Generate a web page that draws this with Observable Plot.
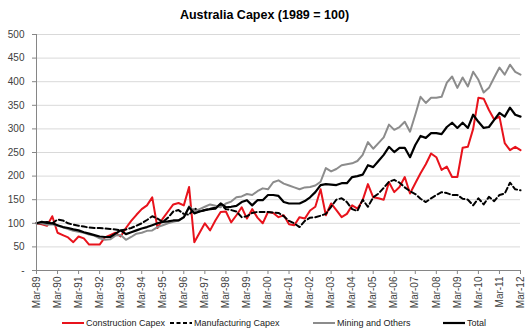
<!DOCTYPE html>
<html>
<head>
<meta charset="utf-8">
<script src="https://cdn.jsdelivr.net/npm/d3@7"></script>
<script src="https://cdn.jsdelivr.net/npm/@observablehq/plot@0.6"></script>
<style>
  html, body { margin: 0; padding: 0; background: #fff; }
  body { width: 529px; height: 332px; font-family: "Liberation Sans", Arial, sans-serif; position: relative; overflow: hidden; }
  #title { height: 26px; line-height: 30px; text-align: center; font-weight: bold; font-size: 12.5px; color: #000; }
  #chart { height: 284px; }
  #legend { position: absolute; left: 0; top: 315px; width: 529px; height: 16px; font-size: 9px; color: #222; }
  .item { position: absolute; top: 0; display: flex; align-items: center; height: 16px; white-space: nowrap; }
  .item svg { margin-right: 2px; }
</style>
</head>
<body>
<div id="title">Australia Capex (1989 = 100)</div>
<div id="chart"></div>
<div id="legend"></div>
<script>
// Tick labels (one per March, 1989–2012)
const tickLabels = ["Mar-89","Mar-90","Mar-91","Mar-92","Mar-93","Mar-94","Mar-95","Mar-96","Mar-97","Mar-98","Mar-99","Mar-00","Mar-01","Mar-02","Mar-03","Mar-04","Mar-05","Mar-06","Mar-07","Mar-08","Mar-09","Mar-10","Mar-11","Mar-12"];
const yTicks = [0, 50, 100, 150, 200, 250, 300, 350, 400, 450, 500];

// Quarterly index values, Mar-89 .. Mar-12
const construction = [100,98,95,115,80,75,70,60,72,68,55,55,55,70,75,80,72,90,105,118,130,138,155,90,110,125,140,143,138,177,60,80,100,85,106,124,125,102,117,134,110,130,112,100,124,122,113,117,98,96,113,110,127,135,172,117,142,128,113,120,138,131,149,183,155,153,150,187,166,177,198,163,185,206,225,248,240,213,220,198,198,260,262,300,366,364,340,320,326,270,255,262,255];
const manufacturing = [100,100,103,100,108,106,100,97,95,93,91,90,90,89,88,87,85,87,90,95,100,107,115,110,103,112,125,128,120,118,132,125,128,131,133,140,130,128,125,113,115,122,124,124,124,123,122,115,105,100,92,105,112,113,116,120,135,150,153,145,130,126,150,135,155,163,175,188,192,186,176,168,162,152,145,153,160,166,164,160,160,152,150,138,153,140,156,147,160,163,186,172,170];
const mining = [100,100,97,98,95,92,88,84,82,80,76,74,68,65,66,74,75,65,71,78,80,84,85,92,96,100,103,106,112,136,125,130,135,140,137,134,142,146,155,157,162,160,168,174,172,187,191,184,180,176,172,176,177,180,188,217,210,215,223,225,227,232,245,272,258,270,282,309,298,304,315,294,330,368,355,366,366,368,398,411,387,409,390,421,404,377,387,409,430,415,436,421,415];
const total = [100,103,101,100,96,92,90,87,85,81,78,75,72,71,71,78,85,77,81,85,89,92,96,100,103,104,106,106,113,134,121,125,128,130,131,142,134,135,137,145,149,138,149,149,160,160,158,145,142,142,142,147,155,166,181,183,182,181,185,185,198,200,203,223,219,232,245,262,251,260,260,240,266,285,281,291,291,289,304,313,302,313,302,330,315,302,304,319,334,326,345,330,326];

const seriesNames = ["Construction Capex", "Manufacturing Capex", "Mining and Others", "Total"];
const seriesColors = ["#e8131c", "#000000", "#8c8c8c", "#000000"];
const seriesDash = [null, "5,3", null, null];
const seriesWidth = [2, 2, 2, 2.2];
const seriesValues = [construction, manufacturing, mining, total];

const axisColor = "#404040";
const xTickPos = tickLabels.map((_, k) => k * 4);

const lines = seriesValues.map((vals, s) =>
  Plot.lineY(vals, {
    x: (d, i) => i,
    y: d => d,
    stroke: seriesColors[s],
    strokeWidth: seriesWidth[s],
    strokeDasharray: seriesDash[s] || undefined,
    strokeLinejoin: "round"
  })
);

const chart = Plot.plot({
  width: 529,
  height: 284,
  marginLeft: 36,
  marginRight: 9,
  marginTop: 8,
  marginBottom: 40,
  style: { fontFamily: "'Liberation Sans', Arial, sans-serif", fontSize: "10px", background: "#fff" },
  x: { domain: [0, 92] },
  y: { domain: [0, 500] },
  marks: [
    Plot.gridY(yTicks, { stroke: "#d9d9d9", strokeOpacity: 1 }),
    ...lines,
    Plot.ruleX([0], { stroke: "#868686" }),
    Plot.ruleY([0], { stroke: "#868686" }),
    Plot.axisY(yTicks, {
      tickFormat: d => d === 0 ? "-" : String(d),
      tickSize: 4, tickPadding: 8, stroke: "#868686", fill: axisColor, fontSize: 10
    }),
    Plot.axisX(xTickPos, {
      tickFormat: i => tickLabels[i / 4],
      tickRotate: -90, tickSize: 4, tickPadding: 2, stroke: "#868686", fill: axisColor, fontSize: 10
    })
  ]
});
document.getElementById("chart").appendChild(chart);

// Legend
const legendLeft = [62, 170, 313, 443];
const legend = document.getElementById("legend");
seriesNames.forEach((name, s) => {
  const item = document.createElement("div");
  item.className = "item";
  item.style.left = legendLeft[s] + "px";
  const dash = seriesDash[s] ? ` stroke-dasharray="4,2.5"` : "";
  item.innerHTML = `<svg width="22" height="8"><line x1="0" y1="4" x2="22" y2="4" stroke="${seriesColors[s]}" stroke-width="${seriesWidth[s]}"${dash}/></svg><span>${name}</span>`;
  legend.appendChild(item);
});
</script>
</body>
</html>
